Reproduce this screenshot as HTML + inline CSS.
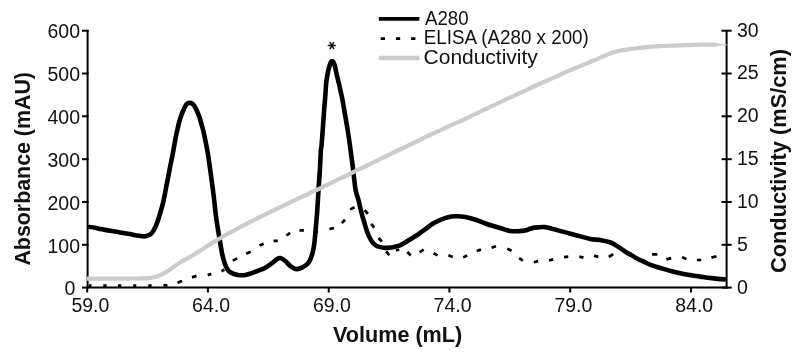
<!DOCTYPE html>
<html><head><meta charset="utf-8"><style>
html,body{margin:0;padding:0;background:#fff;}
svg{display:block;will-change:transform;}
.t{font-family:"Liberation Sans",sans-serif;font-size:19.5px;fill:#111;}
.l{font-family:"Liberation Sans",sans-serif;font-size:19.5px;fill:#111;}
.b{font-family:"Liberation Sans",sans-serif;font-size:22.2px;font-weight:bold;fill:#111;}
.ast{font-family:"Liberation Sans",sans-serif;font-size:18px;fill:#111;}
</style></head><body>
<svg width="800" height="353" viewBox="0 0 800 353">
<rect width="800" height="353" fill="#fff"/>
<line x1="87.6" y1="30" x2="87.6" y2="288.6" stroke="#000" stroke-width="2"/>
<line x1="86.6" y1="287.6" x2="727.5" y2="287.6" stroke="#000" stroke-width="2"/>
<line x1="726.6" y1="30" x2="726.6" y2="288.6" stroke="#000" stroke-width="2"/>
<line x1="82" y1="287.6" x2="88.6" y2="287.6" stroke="#000" stroke-width="2"/>
<text x="75.4" y="295.3" text-anchor="end" class="t">0</text>
<line x1="82" y1="244.8" x2="88.6" y2="244.8" stroke="#000" stroke-width="2"/>
<text x="80" y="252.5" text-anchor="end" class="t">100</text>
<line x1="82" y1="202.0" x2="88.6" y2="202.0" stroke="#000" stroke-width="2"/>
<text x="80" y="209.7" text-anchor="end" class="t">200</text>
<line x1="82" y1="159.2" x2="88.6" y2="159.2" stroke="#000" stroke-width="2"/>
<text x="80" y="166.8" text-anchor="end" class="t">300</text>
<line x1="82" y1="116.3" x2="88.6" y2="116.3" stroke="#000" stroke-width="2"/>
<text x="80" y="124.0" text-anchor="end" class="t">400</text>
<line x1="82" y1="73.5" x2="88.6" y2="73.5" stroke="#000" stroke-width="2"/>
<text x="80" y="81.2" text-anchor="end" class="t">500</text>
<line x1="82" y1="30.7" x2="88.6" y2="30.7" stroke="#000" stroke-width="2"/>
<text x="80" y="38.4" text-anchor="end" class="t">600</text>
<line x1="721.5" y1="287.6" x2="731.7" y2="287.6" stroke="#000" stroke-width="2"/>
<text x="737" y="293.5" class="t">0</text>
<line x1="721.5" y1="244.8" x2="731.7" y2="244.8" stroke="#000" stroke-width="2"/>
<text x="737" y="250.7" class="t">5</text>
<line x1="721.5" y1="202.0" x2="731.7" y2="202.0" stroke="#000" stroke-width="2"/>
<text x="737" y="207.9" class="t">10</text>
<line x1="721.5" y1="159.2" x2="731.7" y2="159.2" stroke="#000" stroke-width="2"/>
<text x="737" y="165.1" class="t">15</text>
<line x1="721.5" y1="116.3" x2="731.7" y2="116.3" stroke="#000" stroke-width="2"/>
<text x="737" y="122.2" class="t">20</text>
<line x1="721.5" y1="73.5" x2="731.7" y2="73.5" stroke="#000" stroke-width="2"/>
<text x="737" y="79.4" class="t">25</text>
<line x1="721.5" y1="30.7" x2="731.7" y2="30.7" stroke="#000" stroke-width="2"/>
<text x="737" y="36.6" class="t">30</text>
<line x1="87.2" y1="287" x2="87.2" y2="292.5" stroke="#000" stroke-width="2"/>
<text x="90.4" y="311.5" text-anchor="middle" class="t">59.0</text>
<line x1="207.9" y1="287" x2="207.9" y2="292.5" stroke="#000" stroke-width="2"/>
<text x="211.1" y="311.5" text-anchor="middle" class="t">64.0</text>
<line x1="328.7" y1="287" x2="328.7" y2="292.5" stroke="#000" stroke-width="2"/>
<text x="331.9" y="311.5" text-anchor="middle" class="t">69.0</text>
<line x1="449.4" y1="287" x2="449.4" y2="292.5" stroke="#000" stroke-width="2"/>
<text x="452.6" y="311.5" text-anchor="middle" class="t">74.0</text>
<line x1="570.2" y1="287" x2="570.2" y2="292.5" stroke="#000" stroke-width="2"/>
<text x="573.4" y="311.5" text-anchor="middle" class="t">79.0</text>
<line x1="691.0" y1="287" x2="691.0" y2="292.5" stroke="#000" stroke-width="2"/>
<text x="694.2" y="311.5" text-anchor="middle" class="t">84.0</text>
<text x="333" y="342.4" class="b" textLength="129.2" lengthAdjust="spacingAndGlyphs">Volume (mL)</text>
<text transform="translate(30.2,265.6) rotate(-90)" class="b" textLength="193.6" lengthAdjust="spacingAndGlyphs">Absorbance (mAU)</text>
<text transform="translate(785.6,273) rotate(-90)" class="b" textLength="224" lengthAdjust="spacingAndGlyphs">Conductivity (mS/cm)</text>
<line x1="328.40" y1="45.60" x2="335.40" y2="45.60" stroke="#111" stroke-width="1.5" stroke-linecap="round"/>
<line x1="330.15" y1="42.57" x2="333.65" y2="48.63" stroke="#111" stroke-width="1.5" stroke-linecap="round"/>
<line x1="333.65" y1="42.57" x2="330.15" y2="48.63" stroke="#111" stroke-width="1.5" stroke-linecap="round"/>
<path d="M88.9,285.7L91.5,285.7M103.3,285.7L106.6,285.7M117.9,285.7L121.2,285.7M133.2,285.7L136.3,285.7M148.3,285.6L151.6,285.6M163.5,285.4L167.4,285.3M177.5,282.8L182.1,280.9M192.0,277.4L196.5,275.9M207.7,275.1L211.3,273.9M221.5,271.3L224.3,269.5M232.8,260.6L237.3,258.4M246.2,253.8L250.7,251.7M259.5,245.6L263.7,243.7M273.5,240.8L277.8,240.8M286.4,235.4L290.3,232.9M299.4,230.5L303.9,230.4M314.9,232.0L318.1,232.0M329.4,229.0L333.9,228.0M341.7,223.1L345.1,219.7M350.1,209.4L354.6,207.3M364.6,210.3L368.0,213.8M371.2,223.9L374.2,227.6M378.7,238.0L381.8,241.6M386.2,251.4L389.2,255.3M395.9,250.5L399.3,249.5M407.3,252.1L410.8,255.4M419.7,252.4L423.6,249.5M433.6,253.2L437.5,255.4M448.4,255.3L452.8,256.9M463.1,257.4L467.2,255.5M476.8,251.1L481.0,249.5M491.6,247.6L496.0,246.3M507.2,248.7L511.6,250.8M519.2,258.2L522.9,260.6M533.9,262.2L538.1,261.1M549.0,260.5L553.2,259.4M564.1,257.2L568.3,256.6M579.3,256.6L583.5,257.6M594.0,255.6L598.3,256.9M608.8,257.0L613.1,254.2M652.1,254.4L657.4,254.4M666.4,259.4L671.2,258.1M682.1,257.3L686.4,259.0M696.9,260.0L701.2,260.0M711.4,257.5L716.4,256.4" fill="none" stroke="#000" stroke-width="2.7"/>
<path d="M89.5,227.0 C90.4,227.1 93.2,227.4 95.0,227.7 C96.8,228.0 97.5,228.5 100.0,229.0 C102.5,229.5 106.7,230.1 110.0,230.7 C113.3,231.3 116.7,231.8 120.0,232.4 C123.3,233.0 126.8,233.5 130.0,234.1 C133.2,234.7 136.6,235.4 139.2,235.8 C141.8,236.2 143.5,236.7 145.5,236.3 C147.5,235.9 149.7,235.2 151.3,233.6 C153.0,232.0 154.1,229.8 155.4,227.0 C156.7,224.2 157.9,220.7 159.1,216.8 C160.3,213.0 161.9,207.5 162.8,203.9 C163.7,200.3 164.0,198.4 164.6,195.5 C165.2,192.6 165.5,190.9 166.3,186.5 C167.2,182.1 168.6,174.8 169.7,169.0 C170.8,163.2 172.0,157.7 173.1,152.0 C174.2,146.3 175.4,138.8 176.2,135.0 C176.9,131.2 177.2,130.9 177.6,129.0 C178.0,127.0 178.3,125.2 178.8,123.3 C179.3,121.4 179.9,119.6 180.5,117.7 C181.1,115.8 181.8,113.9 182.6,112.0 C183.4,110.1 184.4,107.7 185.2,106.3 C186.0,104.9 186.4,104.2 187.2,103.6 C188.0,103.0 188.9,102.9 189.8,102.9 C190.7,102.9 191.7,103.2 192.5,103.8 C193.3,104.4 193.9,104.9 194.7,106.3 C195.5,107.7 196.6,110.1 197.4,112.0 C198.2,113.9 199.1,115.8 199.7,117.7 C200.3,119.6 200.7,121.4 201.2,123.3 C201.7,125.2 202.4,127.0 202.9,129.0 C203.4,131.0 203.5,131.7 204.3,135.5 C205.1,139.3 206.6,146.4 207.6,152.0 C208.6,157.6 209.3,163.3 210.1,169.0 C210.9,174.7 211.8,181.5 212.4,186.0 C213.0,190.5 213.1,191.1 213.7,196.0 C214.3,200.9 215.2,210.0 215.9,215.5 C216.6,221.0 217.2,224.8 217.9,229.0 C218.6,233.2 219.2,236.8 219.9,241.0 C220.6,245.2 221.5,250.8 222.3,254.5 C223.1,258.2 223.8,260.7 224.6,263.0 C225.4,265.3 225.9,266.8 226.9,268.4 C227.9,269.9 228.5,271.2 230.3,272.3 C232.1,273.4 235.4,274.6 237.9,275.0 C240.4,275.4 243.1,275.3 245.6,274.9 C248.1,274.5 250.6,273.5 253.2,272.6 C255.8,271.7 258.9,270.4 260.9,269.6 C262.9,268.8 263.1,269.1 265.0,268.0 C266.9,266.9 270.4,264.4 272.4,262.9 C274.4,261.4 275.7,259.8 277.0,259.0 C278.3,258.2 279.3,257.9 280.3,258.0 C281.3,258.1 282.1,258.7 283.0,259.3 C283.9,259.9 284.5,260.2 285.8,261.4 C287.1,262.6 288.9,265.0 290.7,266.3 C292.5,267.6 294.7,268.9 296.7,269.1 C298.7,269.3 300.8,268.2 302.6,267.3 C304.4,266.4 306.3,265.2 307.6,263.8 C308.9,262.4 309.7,261.0 310.6,258.9 C311.5,256.8 312.4,253.8 313.0,251.0 C313.6,248.2 314.1,245.5 314.5,242.0 C314.9,238.5 315.3,233.7 315.6,230.0 C315.9,226.3 316.2,223.3 316.5,220.0 C316.8,216.7 317.0,215.0 317.3,210.0 C317.6,205.0 318.1,196.7 318.5,190.0 C318.9,183.3 319.5,176.7 319.9,170.0 C320.3,163.3 320.6,154.0 320.9,150.0 C321.2,146.0 321.2,149.5 321.5,146.0 C321.8,142.5 322.4,134.7 322.8,129.0 C323.2,123.3 323.6,117.5 324.0,112.0 C324.4,106.5 325.0,100.4 325.3,96.0 C325.6,91.6 325.8,88.4 326.0,85.4 C326.2,82.5 326.4,80.7 326.8,78.3 C327.2,75.9 327.6,73.4 328.1,71.2 C328.6,69.0 329.3,66.5 329.8,65.0 C330.3,63.5 330.6,62.6 331.0,62.0 C331.4,61.4 331.7,61.1 332.1,61.1 C332.5,61.1 332.8,61.3 333.2,61.9 C333.6,62.5 334.0,63.2 334.5,64.8 C335.0,66.3 335.5,69.0 336.0,71.2 C336.5,73.5 337.0,75.9 337.6,78.3 C338.2,80.7 338.8,83.0 339.4,85.4 C339.9,87.8 340.4,90.1 340.9,92.5 C341.4,94.9 341.9,96.8 342.5,100.0 C343.1,103.2 343.8,107.2 344.6,112.0 C345.4,116.8 346.6,123.3 347.5,129.0 C348.4,134.7 349.4,141.7 350.0,146.0 C350.6,150.3 350.7,151.0 351.2,155.0 C351.7,159.0 352.5,164.2 353.2,170.0 C353.9,175.8 354.7,185.0 355.6,190.0 C356.5,195.0 357.7,197.0 358.5,200.0 C359.3,203.0 359.7,205.4 360.3,208.0 C360.9,210.6 361.6,213.2 362.2,215.5 C362.8,217.8 363.6,219.9 364.2,222.0 C364.8,224.1 365.3,226.1 365.9,228.0 C366.5,229.9 367.1,231.7 367.7,233.3 C368.3,234.9 369.0,236.4 369.7,237.8 C370.4,239.2 371.1,240.5 371.9,241.6 C372.7,242.7 373.6,243.6 374.5,244.4 C375.4,245.2 376.2,245.8 377.6,246.3 C379.0,246.8 380.8,247.3 382.7,247.6 C384.6,247.8 386.6,248.0 388.8,247.8 C391.0,247.6 393.7,247.0 395.6,246.6 C397.5,246.2 398.5,245.9 400.0,245.3 C401.5,244.7 402.7,244.0 404.4,243.0 C406.1,242.0 407.7,240.9 410.0,239.5 C412.3,238.1 415.5,236.2 418.0,234.5 C420.5,232.8 422.5,231.3 425.0,229.5 C427.5,227.7 430.3,225.2 433.0,223.5 C435.7,221.8 438.8,220.6 441.3,219.5 C443.8,218.4 445.6,217.7 448.0,217.2 C450.4,216.7 452.6,216.4 455.5,216.3 C458.4,216.2 462.1,216.4 465.4,216.9 C468.6,217.4 471.4,218.3 475.0,219.5 C478.6,220.7 483.4,222.8 486.7,224.0 C490.0,225.2 491.9,225.6 495.0,226.5 C498.1,227.4 502.5,228.8 505.0,229.6 C507.5,230.3 507.8,230.7 510.0,231.0 C512.2,231.3 515.5,231.3 518.0,231.2 C520.5,231.1 523.0,231.0 525.0,230.6 C527.0,230.2 528.3,229.3 530.0,228.8 C531.7,228.3 532.5,227.9 535.0,227.6 C537.5,227.3 542.2,226.9 545.0,227.1 C547.8,227.3 549.8,228.1 552.0,228.7 C554.2,229.2 555.1,229.6 558.0,230.4 C560.9,231.2 566.0,232.6 569.6,233.5 C573.2,234.4 576.0,235.2 579.4,236.1 C582.8,237.0 586.7,238.2 590.3,238.9 C593.9,239.6 597.8,239.6 601.2,240.2 C604.6,240.8 607.7,241.4 610.6,242.5 C613.5,243.6 615.8,245.4 618.4,247.0 C621.0,248.6 624.1,250.9 626.2,252.2 C628.3,253.5 629.2,253.9 631.2,255.0 C633.2,256.1 635.6,257.8 638.0,259.0 C640.4,260.2 643.1,261.4 645.4,262.5 C647.7,263.6 649.6,264.4 652.0,265.3 C654.4,266.2 657.3,267.0 659.6,267.7 C661.9,268.4 663.6,268.9 666.0,269.6 C668.4,270.3 671.4,271.1 673.7,271.7 C676.0,272.3 677.6,272.7 680.0,273.2 C682.4,273.7 685.6,274.3 687.9,274.7 C690.2,275.1 692.0,275.4 694.0,275.7 C696.0,276.0 697.7,276.3 700.0,276.6 C702.3,276.9 705.3,277.4 708.0,277.7 C710.7,278.0 713.3,278.3 716.0,278.6 C718.7,278.9 722.9,279.3 724.3,279.4" fill="none" stroke="#000" stroke-width="4.6" stroke-linejoin="round" stroke-linecap="round"/>
<path d="M86.8,278.7 C92.3,278.7 111.1,278.6 120.0,278.6 C128.9,278.6 135.3,278.6 140.0,278.5 C144.7,278.4 145.8,278.4 148.0,278.2 C150.2,278.0 151.5,277.8 153.0,277.5 C154.5,277.2 155.7,276.9 157.0,276.5 C158.3,276.1 159.7,275.4 161.0,274.8 C162.3,274.2 163.5,273.5 165.0,272.6 C166.5,271.7 168.3,270.6 170.0,269.5 C171.7,268.4 173.3,267.2 175.0,266.0 C176.7,264.8 177.8,263.8 180.0,262.5 C182.2,261.2 185.7,259.3 188.0,258.0 C190.3,256.7 192.0,255.7 194.0,254.5 C196.0,253.3 197.8,252.2 200.0,250.8 C202.2,249.4 204.7,247.8 207.0,246.3 C209.3,244.8 211.7,243.3 214.0,241.9 C216.3,240.5 218.7,239.1 221.0,237.7 C223.3,236.3 225.5,235.1 228.0,233.7 C230.5,232.3 233.3,230.7 236.0,229.3 C238.7,227.9 241.3,226.5 244.0,225.1 C246.7,223.7 249.3,222.3 252.0,221.0 C254.7,219.7 257.3,218.3 260.0,217.0 C262.7,215.7 265.7,214.3 268.0,213.2 C270.3,212.1 272.0,211.2 274.0,210.2 C276.0,209.2 278.0,208.3 280.0,207.3 C282.0,206.3 284.0,205.4 286.0,204.4 C288.0,203.4 290.0,202.4 292.0,201.5 C294.0,200.6 296.0,199.6 298.0,198.7 C300.0,197.8 302.0,196.8 304.0,195.9 C306.0,195.0 308.0,194.0 310.0,193.1 C312.0,192.2 314.0,191.2 316.0,190.3 C318.0,189.4 320.0,188.4 322.0,187.4 C324.0,186.4 326.0,185.5 328.0,184.5 C330.0,183.5 332.0,182.6 334.0,181.6 C336.0,180.6 338.0,179.7 340.0,178.7 C342.0,177.7 344.0,176.8 346.0,175.8 C348.0,174.8 350.0,173.8 352.0,172.8 C354.0,171.8 356.0,170.9 358.0,169.9 C360.0,168.9 362.0,168.0 364.0,167.0 C366.0,166.0 368.0,165.1 370.0,164.1 C372.0,163.1 374.0,162.2 376.0,161.2 C378.0,160.2 380.0,159.2 382.0,158.2 C384.0,157.2 386.0,156.3 388.0,155.3 C390.0,154.3 392.0,153.4 394.0,152.4 C396.0,151.4 398.0,150.5 400.0,149.5 C402.0,148.5 404.0,147.6 406.0,146.6 C408.0,145.6 410.0,144.7 412.0,143.7 C414.0,142.7 416.0,141.8 418.0,140.8 C420.0,139.8 422.0,138.9 424.0,137.9 C426.0,136.9 428.0,136.0 430.0,135.0 C432.0,134.0 434.0,133.0 436.0,132.1 C438.0,131.2 440.0,130.5 442.0,129.6 C444.0,128.7 446.0,127.7 448.0,126.7 C450.0,125.7 452.0,124.7 454.0,123.8 C456.0,122.9 458.0,122.3 460.0,121.4 C462.0,120.5 464.0,119.5 466.0,118.5 C468.0,117.5 470.0,116.5 472.0,115.6 C474.0,114.6 476.0,113.8 478.0,112.8 C480.0,111.8 482.0,110.9 484.0,109.9 C486.0,109.0 488.0,108.0 490.0,107.1 C492.0,106.2 494.0,105.2 496.0,104.3 C498.0,103.3 500.0,102.4 502.0,101.4 C504.0,100.5 506.0,99.5 508.0,98.6 C510.0,97.7 512.0,96.7 514.0,95.8 C516.0,94.9 518.0,93.9 520.0,93.0 C522.0,92.1 524.0,91.1 526.0,90.2 C528.0,89.3 530.0,88.3 532.0,87.4 C534.0,86.5 536.0,85.5 538.0,84.6 C540.0,83.7 542.0,82.9 544.0,82.0 C546.0,81.1 548.0,80.2 550.0,79.3 C552.0,78.4 554.0,77.5 556.0,76.6 C558.0,75.7 560.0,74.8 562.0,73.9 C564.0,73.0 566.0,72.1 568.0,71.2 C570.0,70.3 572.0,69.4 574.0,68.6 C576.0,67.8 578.0,66.9 580.0,66.1 C582.0,65.3 584.0,64.4 586.0,63.6 C588.0,62.8 590.0,62.0 592.0,61.2 C594.0,60.4 596.0,59.7 598.0,58.8 C600.0,57.9 602.0,56.9 604.0,56.0 C606.0,55.1 608.0,54.1 610.0,53.4 C612.0,52.7 614.0,52.1 616.0,51.6 C618.0,51.1 620.0,50.7 622.0,50.3 C624.0,49.9 626.0,49.6 628.0,49.3 C630.0,49.0 632.0,48.8 634.0,48.5 C636.0,48.2 638.0,48.0 640.0,47.8 C642.0,47.6 642.7,47.5 646.0,47.2 C649.3,46.9 655.7,46.5 660.0,46.2 C664.3,45.9 667.7,45.8 672.0,45.6 C676.3,45.4 681.3,45.3 686.0,45.1 C690.7,44.9 695.3,44.7 700.0,44.6 C704.7,44.5 711.7,44.6 714.0,44.6" fill="none" stroke="#cbcbcb" stroke-width="4.2" stroke-linejoin="round"/>
<path d="M713.5,42.5 L716.5,43 L721,44.1 L727.6,44.4 L727.6,45.3 L721,45.6 L716.5,46.4 L713.5,46.7 Z" fill="#cbcbcb"/>
<line x1="378.8" y1="18.8" x2="419.4" y2="18.8" stroke="#000" stroke-width="3.7"/>
<line x1="380.7" y1="38.6" x2="419.4" y2="38.6" stroke="#000" stroke-width="2.7" stroke-dasharray="4.3 10.9"/>
<line x1="378.8" y1="58" x2="419.4" y2="58" stroke="#cbcbcb" stroke-width="4.6"/>
<text x="425.0" y="24.9" class="l" textLength="43.6" lengthAdjust="spacingAndGlyphs">A280</text>
<text x="423.8" y="43.8" class="l" textLength="165" lengthAdjust="spacingAndGlyphs">ELISA (A280 x 200)</text>
<text x="423.6" y="64.1" class="l" textLength="114.2" lengthAdjust="spacingAndGlyphs">Conductivity</text>
</svg>
</body></html>
